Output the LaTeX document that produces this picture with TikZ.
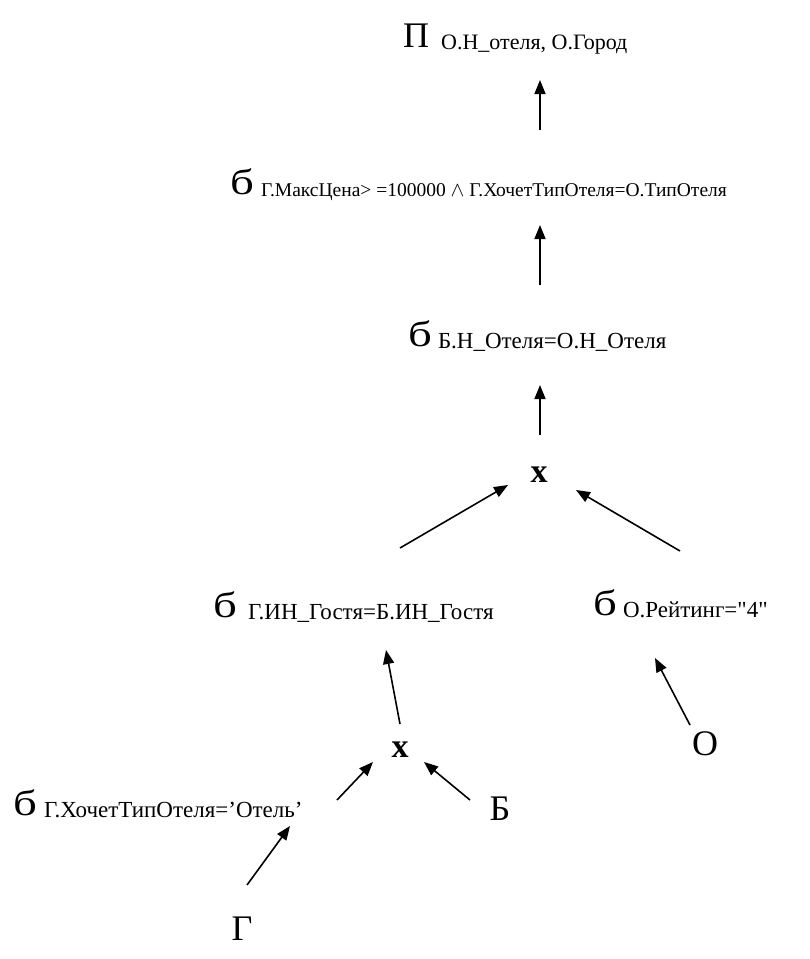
\documentclass[tikz,border=0pt]{standalone}
\usepackage{fontspec}
\usepackage{graphicx}
\setmainfont{Liberation Serif}
% same face without the TeX quote ligatures, for straight double quotes
\newfontfamily\plainquote{Liberation Serif}[Ligatures=TeXOff]
\usetikzlibrary{arrows.meta}
% large operator letters and their subscripts
\newcommand{\bigsym}[1]{{\fontsize{36}{36}\selectfont #1}}
\newcommand{\selsym}{\scalebox{1.3}[1]{\fontsize{36}{36}\selectfont б}}
\newcommand{\subtxt}[2][23]{\raisebox{-2pt}{\fontsize{#1}{#1}\selectfont #2}}
\newcommand{\dq}{{\plainquote\symbol{34}}}
\tikzset{
  lbl/.style={inner sep=0pt, anchor=base west},
  sym/.style={inner sep=0pt, anchor=base, font=\fontsize{36}{36}\selectfont},
  prod/.style={sym, font=\fontsize{34}{34}\selectfont\bfseries},
  arr/.style={line width=1.6pt, -{Triangle[length=14pt,width=11pt]}}
}
\begin{document}
\begin{tikzpicture}[x=1pt,y=-1pt]
\useasboundingbox (0,0) rectangle (810,959);
% operator nodes
\node[lbl] (proj) at (403,47) {\bigsym{П}\hspace{12pt}\subtxt[22]{О.Н\_отеля, О.Город}};
\node[lbl] (selA) at (230,194) {\selsym\hspace{7pt}\subtxt[19.5]{Г.МаксЦена> =100000 $\wedge$ Г.ХочетТипОтеля=О.ТипОтеля}};
\node[lbl] (selB) at (408,346) {\selsym\hspace{6pt}\subtxt{Б.Н\_Отеля=О.Н\_Отеля}};
\node[prod] (prodA) at (539,482) {x};
\node[lbl] (selC) at (213,617) {\selsym\hspace{11pt}\subtxt{Г.ИН\_Гостя=Б.ИН\_Гостя}};
\node[lbl] (selD) at (593,615) {\selsym\hspace{6pt}\subtxt{О.Рейтинг=\dq4\dq}};
\node[prod] (prodB) at (400,757) {x};
\node[sym] (relO) at (705,755) {О};
\node[lbl] (selE) at (13,815) {\selsym\hspace{7pt}\subtxt{Г.ХочетТипОтеля=’Отель’}};
\node[sym] (relB) at (500,820) {Б};
\node[sym] (relG) at (242,940) {Г};
% connector end points
\coordinate (p1) at (540,130); \coordinate (q1) at (540,80);
\coordinate (p2) at (540,285); \coordinate (q2) at (540,225);
\coordinate (p3) at (540,435); \coordinate (q3) at (540,385);
\coordinate (p4) at (400,548); \coordinate (q4) at (508,485);
\coordinate (p5) at (680,551); \coordinate (q5) at (576,490);
\coordinate (p6) at (400,724); \coordinate (q6) at (386,650);
\coordinate (p7) at (690,725); \coordinate (q7) at (655,658);
\coordinate (p8) at (337,800); \coordinate (q8) at (373,762);
\coordinate (p9) at (470,800); \coordinate (q9) at (424,762);
\coordinate (p10) at (247,885); \coordinate (q10) at (290,826);
% connectors
\draw[arr] (p1) -- (q1);
\draw[arr] (p2) -- (q2);
\draw[arr] (p3) -- (q3);
\draw[arr] (p4) -- (q4);
\draw[arr] (p5) -- (q5);
\draw[arr] (p6) -- (q6);
\draw[arr] (p7) -- (q7);
\draw[arr] (p8) -- (q8);
\draw[arr] (p9) -- (q9);
\draw[arr] (p10) -- (q10);
\end{tikzpicture}
\end{document}
